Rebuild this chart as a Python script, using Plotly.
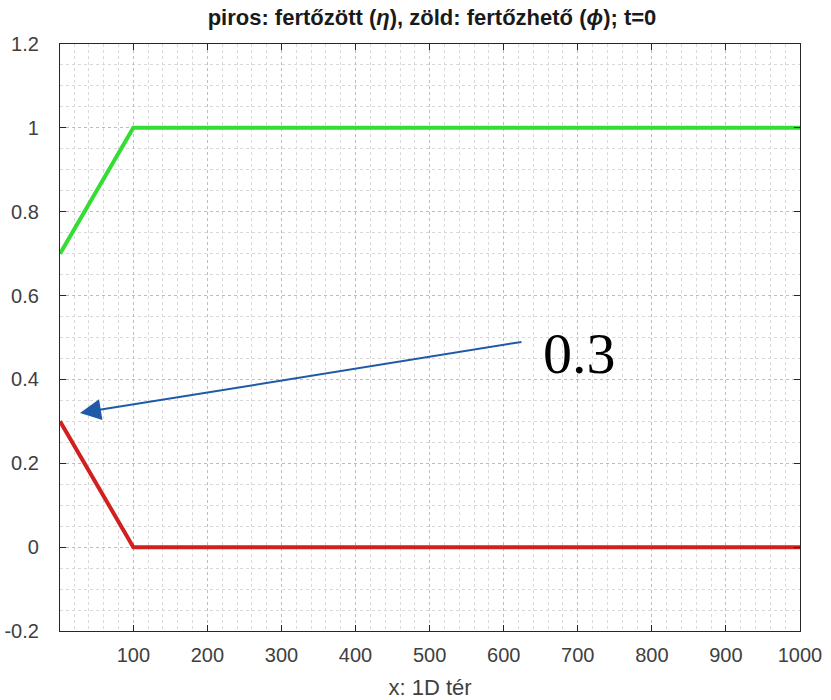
import plotly.graph_objects as go

# Initial profiles along the 1D domain (t = 0)
x_nodes = [1, 100, 1000]
infected = [0.3, 0.0, 0.0]      # eta (red)
susceptible = [0.7, 1.0, 1.0]   # phi (green)

x_ticks = [100, 200, 300, 400, 500, 600, 700, 800, 900, 1000]
y_ticks = [-0.2, 0.0, 0.2, 0.4, 0.6, 0.8, 1.0, 1.2]
y_tick_text = ["-0.2", "0", "0.2", "0.4", "0.6", "0.8", "1", "1.2"]

callout_text = "0.3"
callout_head = (28, 0.32)
callout_tail = (626, 0.49)
callout_pos = (702, 0.462)

sans = "Liberation Sans, Arial, sans-serif"
tick_font = dict(family=sans, size=20, color="#404040")
grid_major = "#bdbdbd"
grid_minor = "#d9d9d9"

fig = go.Figure()
fig.add_trace(go.Scatter(x=x_nodes, y=susceptible, mode="lines",
                         line=dict(color="#33dd33", width=4), showlegend=False))
fig.add_trace(go.Scatter(x=x_nodes, y=infected, mode="lines",
                         line=dict(color="#d21f1f", width=4), showlegend=False))

fig.add_annotation(x=callout_head[0], y=callout_head[1], ax=callout_tail[0], ay=callout_tail[1],
                   xref="x", yref="y", axref="x", ayref="y", text="",
                   showarrow=True, arrowhead=2, arrowsize=2.1, arrowwidth=2,
                   arrowcolor="#1f5aa6")
fig.add_annotation(x=callout_pos[0], y=callout_pos[1], xref="x", yref="y",
                   text=callout_text, showarrow=False, xanchor="center", yanchor="middle",
                   font=dict(family="Liberation Serif, DejaVu Serif, serif", size=58, color="#000000"))

fig.update_layout(
    width=831, height=700,
    margin=dict(l=60, r=31, t=44, b=69, autoexpand=False),
    paper_bgcolor="white", plot_bgcolor="white",
    title=dict(text="piros: fertőzött (<i>η</i>), zöld: fertőzhető (<i>ϕ</i>); t=0",
               x=432 / 831, xanchor="center", y=1 - 17 / 700, yanchor="middle",
               font=dict(family=sans, size=22, color="#1a1a1a", weight="bold")),
)

fig.update_xaxes(
    range=[1, 1000], tickmode="array", tickvals=x_ticks, automargin=False,
    ticks="inside", ticklen=6, tickcolor="#262626", tickwidth=1,
    showline=True, linecolor="#262626", linewidth=1.2, mirror="ticks",
    showgrid=True, gridcolor=grid_major, griddash="dot", gridwidth=1,
    minor=dict(dtick=20, tick0=0, showgrid=True, gridcolor=grid_minor, griddash="dot", ticks=""),
    tickfont=tick_font, ticklabelstandoff=6, zeroline=False,
    title=dict(text="x: 1D tér", font=dict(family=sans, size=22, color="#404040"), standoff=14),
)
fig.update_yaxes(
    range=[-0.2, 1.2], tickmode="array", tickvals=y_ticks, ticktext=y_tick_text, automargin=False,
    ticks="inside", ticklen=6, tickcolor="#262626", tickwidth=1,
    showline=True, linecolor="#262626", linewidth=1.2, mirror="ticks",
    showgrid=True, gridcolor=grid_major, griddash="dot", gridwidth=1,
    minor=dict(dtick=0.05, tick0=0, showgrid=True, gridcolor=grid_minor, griddash="dot", ticks=""),
    tickfont=tick_font, ticklabelstandoff=16, zeroline=False,
)

fig.write_html("out.html")
